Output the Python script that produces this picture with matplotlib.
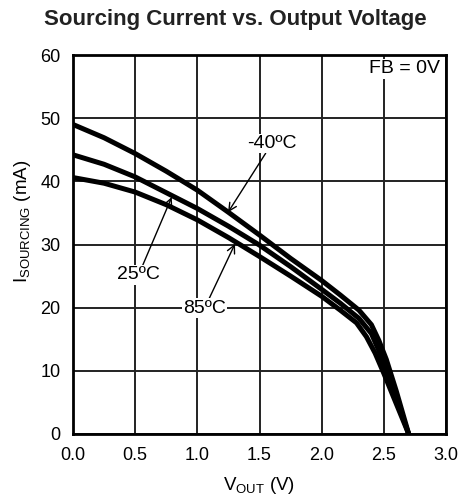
import matplotlib
matplotlib.use('Agg')
import matplotlib.pyplot as plt

plt.rcParams['font.family'] = ['Liberation Sans', 'DejaVu Sans']
plt.rcParams['mathtext.fontset'] = 'custom'
plt.rcParams['mathtext.rm'] = 'Liberation Sans'

# curves: V_OUT (V) -> I_SOURCING (mA)
v_m40 = [0, 0.25, 0.5, 0.75, 1.0, 1.25, 1.5, 1.75, 2.0, 2.15, 2.3, 2.4, 2.46, 2.52, 2.6, 2.7]
i_m40 = [49.0, 46.9, 44.4, 41.6, 38.6, 35.1, 31.5, 27.8, 24.3, 22.0, 19.6, 17.3, 14.8, 11.8, 6.8, 0]

v_25 = [0, 0.25, 0.5, 0.75, 1.0, 1.25, 1.5, 1.75, 2.0, 2.15, 2.3, 2.4, 2.46, 2.52, 2.6, 2.7]
i_25 = [44.2, 42.7, 40.7, 38.2, 35.7, 32.9, 29.9, 26.5, 22.9, 20.7, 18.3, 15.9, 13.2, 10.0, 5.6, 0]

v_85 = [0, 0.25, 0.5, 0.75, 1.0, 1.25, 1.5, 1.75, 2.0, 2.15, 2.28, 2.36, 2.43, 2.5, 2.6, 2.7]
i_85 = [40.6, 39.7, 38.3, 36.3, 33.9, 31.1, 28.1, 25.0, 21.8, 19.6, 17.6, 15.4, 12.8, 9.6, 4.8, 0]

x_ticks = [0.0, 0.5, 1.0, 1.5, 2.0, 2.5, 3.0]
y_ticks = [0, 10, 20, 30, 40, 50, 60]

fig = plt.figure(figsize=(4.62, 5.03), dpi=100)
ax = fig.add_axes([73 / 462, 1 - 434 / 503, 373 / 462, 379 / 503])

for v, i in [(v_m40, i_m40), (v_25, i_25), (v_85, i_85)]:
    ax.plot(v, i, color='black', lw=3.6, solid_capstyle='butt', zorder=3)

ax.set_xlim(0, 3)
ax.set_ylim(0, 60)
ax.set_xticks(x_ticks)
ax.set_xticklabels(['%.1f' % t for t in x_ticks])
ax.set_yticks(y_ticks)
ax.tick_params(length=0, labelsize=13, pad=9)
ax.grid(True, color='#222222', lw=1.4)
for s in ax.spines.values():
    s.set_linewidth(2)

box = dict(facecolor='white', edgecolor='none', pad=1)
arrow = dict(arrowstyle='->', color='black', lw=1.0, shrinkA=0, shrinkB=0,
             mutation_scale=14)
ax.annotate('-40ºC', xy=(1.247, 35.1), xytext=(1.60, 46.0), fontsize=14,
            ha='center', va='center', bbox=box, arrowprops=arrow, zorder=4)
ax.annotate('25ºC', xy=(0.794, 37.5), xytext=(0.528, 25.2), fontsize=14,
            ha='center', va='center', bbox=box, arrowprops=arrow, zorder=4)
ax.annotate('85ºC', xy=(1.303, 30.1), xytext=(1.058, 19.9), fontsize=14,
            ha='center', va='center', bbox=box, arrowprops=arrow, zorder=4)
ax.text(2.95, 57.8, 'FB = 0V', fontsize=14, ha='right', va='center',
        bbox=box, zorder=4)

ax.set_xlabel(r'V$_{\mathrm{OUT}}$ (V)', fontsize=13.5, labelpad=8)
ax.set_ylabel(r'I$_{\mathrm{SOURCING}}$ (mA)', fontsize=13.5)
ax.yaxis.set_label_coords(-0.107, 0.56)
fig.text(235 / 462, 1 - 25 / 503, 'Sourcing Current vs. Output Voltage',
         fontsize=16, fontweight='bold', ha='center', va='baseline',
         color='#222222')

fig.savefig('out.png', dpi=100)
